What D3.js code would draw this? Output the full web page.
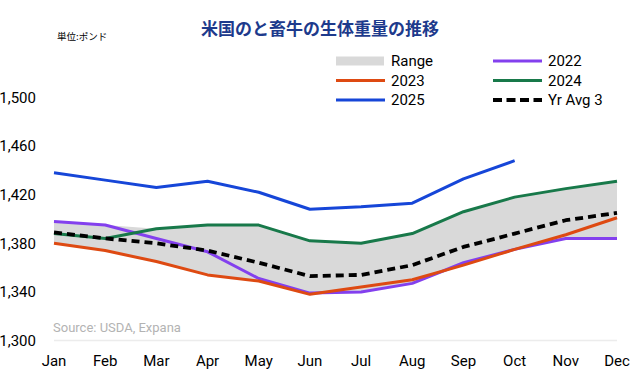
<!DOCTYPE html>
<html>
<head>
<meta charset="utf-8">
<script src="https://cdn.jsdelivr.net/npm/d3@7"></script>
<style>
  body { margin: 0; background: #fff; }
  svg { display: block; font-family: Roboto, "Noto Sans", sans-serif; }
</style>
</head>
<body>
<div id="chart"></div>
<script>
// Monthly live weight of slaughter cattle, lbs
const MONTHS = ['Jan', 'Feb', 'Mar', 'Apr', 'May', 'Jun', 'Jul', 'Aug', 'Sep', 'Oct', 'Nov', 'Dec'];
const Y_TICKS = [1300, 1340, 1380, 1420, 1460, 1500];

const W2022 = [1398, 1395, 1384, 1373, 1351, 1339, 1340, 1347, 1364, 1375, 1384, 1384];
const W2023 = [1380, 1374, 1365, 1354, 1349, 1338, 1344, 1350, 1362, 1375, 1387, 1401];
const W2024 = [1388, 1384, 1392, 1395, 1395, 1382, 1380, 1388, 1406, 1418, 1425, 1431];
const W2025 = [1438, 1432, 1426, 1431, 1422, 1408, 1410, 1413, 1433, 1448];
const AVG3 = [1389, 1384, 1380, 1374, 1364, 1353, 1354, 1362, 1377, 1388, 1399, 1405];

const SERIES = [
  { name: '2022', values: W2022, color: '#8340ee' },
  { name: '2023', values: W2023, color: '#de4a12' },
  { name: '2024', values: W2024, color: '#18794a' },
  { name: '2025', values: W2025, color: '#1646d8' },
  { name: 'Yr Avg 3', values: AVG3, color: '#000', dash: '8 5' }
];

const totalW = 630, totalH = 388;
const margin = { top: 97.5, right: 13, bottom: 47.5, left: 54 };
const width = totalW - margin.left - margin.right;
const height = totalH - margin.top - margin.bottom;

const svg = d3.select('#chart').append('svg')
  .attr('width', totalW).attr('height', totalH);

const x = d3.scalePoint().domain(MONTHS).range([0, width]);
const y = d3.scaleLinear().domain([1300, 1500]).range([height, 0]);

const g = svg.append('g')
  .attr('transform', `translate(${margin.left},${margin.top})`);

// Title and unit
svg.append('text')
  .attr('x', 320).attr('y', 35)
  .attr('text-anchor', 'middle')
  .attr('fill', '#1d3a8c')
  .attr('font-size', '17px')
  .attr('font-weight', 'bold')
  .attr('font-family', '"Noto Sans CJK JP", sans-serif')
  .text('米国のと畜牛の生体重量の推移');

svg.append('text')
  .attr('x', 57).attr('y', 40)
  .attr('fill', '#000')
  .attr('font-size', '9.5px')
  .attr('font-family', '"Noto Sans CJK JP", sans-serif')
  .text('単位:ポンド');

// Baseline grid
g.append('line')
  .attr('x1', 0).attr('x2', width)
  .attr('y1', y(1300)).attr('y2', y(1300))
  .attr('stroke', '#ececec').attr('stroke-width', 1.5);

// Range band (min/max of 2022-2024)
const rangeData = MONTHS.map((m, i) => ({
  m,
  lo: Math.min(W2022[i], W2023[i], W2024[i]),
  hi: Math.max(W2022[i], W2023[i], W2024[i])
}));
g.append('path')
  .datum(rangeData)
  .attr('fill', '#d9d9d9')
  .attr('d', d3.area().x(d => x(d.m)).y0(d => y(d.lo)).y1(d => y(d.hi)));

// Lines
const line = d3.line().x((d, i) => x(MONTHS[i])).y(d => y(d));
SERIES.forEach(s => {
  g.append('path')
    .datum(s.values)
    .attr('fill', 'none')
    .attr('stroke', s.color)
    .attr('stroke-width', s.dash ? 3.8 : 3)
    .attr('stroke-dasharray', s.dash || null)
    .attr('stroke-linejoin', 'round')
    .attr('d', line);
});

// Source note
g.append('text')
  .attr('x', -1).attr('y', y(1300) - 9)
  .attr('fill', '#b3b3b3')
  .attr('font-size', '13px')
  .text('Source: USDA, Expana');

// Y axis labels
g.selectAll('.ytick').data(Y_TICKS)
  .join('text')
  .attr('class', 'ytick')
  .attr('x', -18)
  .attr('y', d => y(d))
  .attr('dy', '0.35em')
  .attr('text-anchor', 'end')
  .attr('fill', '#000')
  .attr('font-size', '15px')
  .text(d3.format(','));

// X axis labels
g.selectAll('.xtick').data(MONTHS)
  .join('text')
  .attr('class', 'xtick')
  .attr('x', d => x(d))
  .attr('y', height + 20)
  .attr('dy', '0.35em')
  .attr('text-anchor', 'middle')
  .attr('fill', '#000')
  .attr('font-size', '15px')
  .text(d => d);

// Legend
const legendItems = [
  { name: 'Range', fill: '#d9d9d9' },
  SERIES[0],
  SERIES[1],
  SERIES[2],
  SERIES[3],
  SERIES[4]
];
const legend = svg.append('g');
legendItems.forEach((d, i) => {
  const col = i % 2, row = Math.floor(i / 2);
  const lx = col === 0 ? 336 : 493;
  const ly = 61 + row * 19.5;
  const item = legend.append('g').attr('transform', `translate(${lx},${ly})`);
  if (d.fill) {
    item.append('rect')
      .attr('x', 0).attr('y', -4.5)
      .attr('width', 48).attr('height', 9)
      .attr('fill', d.fill);
  } else {
    item.append('line')
      .attr('x1', 0).attr('x2', 49)
      .attr('stroke', d.color)
      .attr('stroke-width', d.dash ? 3.8 : 3.2)
      .attr('stroke-dasharray', d.dash ? '9 4.5' : null);
  }
  item.append('text')
    .attr('x', 55).attr('dy', '0.35em')
    .attr('fill', '#000')
    .attr('font-size', '15px')
    .text(d.name);
});
</script>
</body>
</html>
